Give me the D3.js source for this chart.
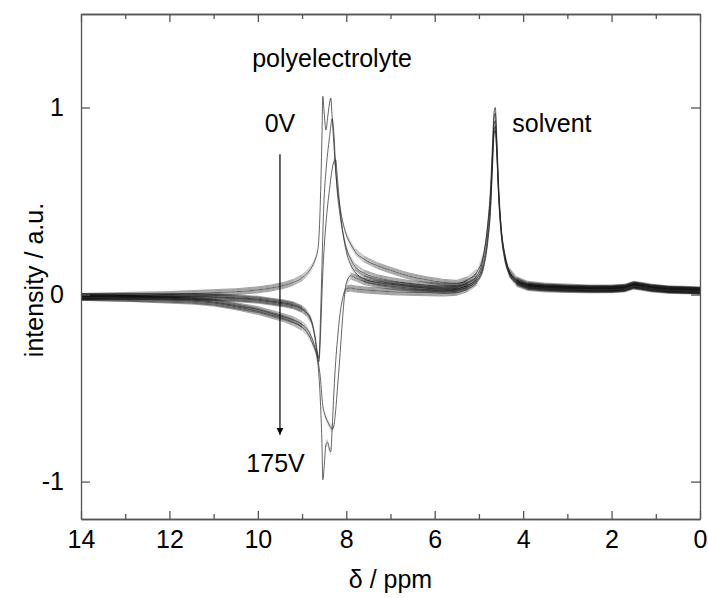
<!DOCTYPE html>
<html>
<head>
<meta charset="utf-8">
<title>NMR spectra</title>
<script src="https://d3js.org/d3.v7.min.js"></script>
<style>
  body { margin: 0; background: #fff; }
  text { font-family: "Liberation Sans", Arial, sans-serif; fill: #000; }
</style>
</head>
<body>
<div id="chart"></div>
<script>
// chemical shift grid (ppm), shared by all spectra
var ppm = [14, 13, 12, 11.5, 11, 10.5, 10, 9.7, 9.4, 9.2, 9.0, 8.9, 8.8, 8.75, 8.7,
  8.66, 8.62, 8.58, 8.55, 8.53, 8.5, 8.46, 8.42, 8.38, 8.35, 8.32, 8.28, 8.24, 8.2, 8.15,
  8.1, 8.05, 8.0, 7.9, 7.8, 7.6, 7.3, 7.0, 6.6, 6.2, 5.8, 5.5, 5.25, 5.05, 4.9,
  4.8, 4.74, 4.69, 4.66, 4.63, 4.6, 4.55, 4.5, 4.42, 4.32, 4.15, 3.9, 3.5, 3.0, 2.5,
  2.0, 1.7, 1.5, 1.35, 1.1, 0.7, 0.3, 0];

// intensities, 0V ... 175V
var trace0V = [-0.01, -0.005, 0.0, 0.005, 0.01, 0.015, 0.025, 0.035, 0.05, 0.065,
  0.09, 0.11, 0.14, 0.16, 0.19, 0.22, 0.3, 0.55, 0.85, 1.06,
  0.97, 0.88, 0.95, 1.02, 1.05, 0.95, 0.8, 0.66, 0.56, 0.48,
  0.41, 0.36, 0.32, 0.27, 0.23, 0.19, 0.155, 0.13, 0.1, 0.08,
  0.065, 0.06, 0.08, 0.12, 0.21, 0.37, 0.53, 0.76, 0.9, 0.93,
  0.8, 0.53, 0.36, 0.22, 0.13, 0.08, 0.055, 0.045, 0.04, 0.035,
  0.035, 0.04, 0.055, 0.05, 0.04, 0.03, 0.028, 0.025];
var trace2 = [-0.01, -0.01, -0.01, -0.01, -0.012, -0.018, -0.025, -0.035, -0.045, -0.055,
  -0.075, -0.095, -0.13, -0.17, -0.23, -0.3, -0.34, -0.1, 0.15, 0.33,
  0.52, 0.66, 0.76, 0.84, 0.9, 0.94, 0.86, 0.68, 0.54, 0.44,
  0.36, 0.3, 0.25, 0.19, 0.15, 0.115, 0.09, 0.075, 0.06, 0.05,
  0.045, 0.045, 0.065, 0.1, 0.2, 0.38, 0.56, 0.82, 0.97, 1.0,
  0.86, 0.56, 0.37, 0.22, 0.13, 0.075, 0.05, 0.04, 0.035, 0.032,
  0.032, 0.037, 0.052, 0.047, 0.037, 0.028, 0.025, 0.022];
var trace3 = [-0.012, -0.012, -0.012, -0.013, -0.015, -0.022, -0.03, -0.04, -0.05, -0.06,
  -0.08, -0.1, -0.14, -0.18, -0.25, -0.32, -0.36, -0.2, 0.0, 0.12,
  0.25, 0.38, 0.48, 0.56, 0.62, 0.67, 0.71, 0.72, 0.62, 0.48,
  0.37, 0.29, 0.23, 0.16, 0.12, 0.085, 0.065, 0.055, 0.045, 0.035,
  0.03, 0.033, 0.05, 0.085, 0.17, 0.33, 0.5, 0.77, 0.94, 0.97,
  0.83, 0.54, 0.36, 0.21, 0.12, 0.07, 0.045, 0.037, 0.033, 0.03,
  0.03, 0.035, 0.05, 0.045, 0.035, 0.027, 0.024, 0.02];
var trace4 = [-0.015, -0.02, -0.025, -0.03, -0.04, -0.06, -0.08, -0.1, -0.12, -0.135,
  -0.16, -0.18, -0.22, -0.25, -0.29, -0.32, -0.38, -0.46, -0.55, -0.6,
  -0.63, -0.66, -0.68, -0.7, -0.71, -0.72, -0.7, -0.62, -0.5, -0.35,
  -0.18, -0.03, 0.06, 0.1, 0.09, 0.07, 0.055, 0.045, 0.035, 0.028,
  0.022, 0.025, 0.042, 0.075, 0.15, 0.3, 0.46, 0.72, 0.87, 0.9,
  0.78, 0.51, 0.34, 0.2, 0.115, 0.065, 0.042, 0.035, 0.03, 0.028,
  0.028, 0.033, 0.048, 0.043, 0.033, 0.025, 0.022, 0.02];
var trace175V = [-0.015, -0.02, -0.03, -0.035, -0.045, -0.065, -0.09, -0.11, -0.13, -0.15,
  -0.175, -0.2, -0.24, -0.27, -0.3, -0.34, -0.43, -0.6, -0.8, -0.99,
  -0.92, -0.8, -0.79, -0.83, -0.84, -0.72, -0.52, -0.36, -0.24, -0.12,
  -0.04, 0.01, 0.03, 0.035, 0.03, 0.025, 0.02, 0.015, 0.012, 0.01,
  0.008, 0.012, 0.032, 0.065, 0.14, 0.28, 0.44, 0.7, 0.85, 0.88,
  0.77, 0.5, 0.33, 0.19, 0.11, 0.06, 0.038, 0.03, 0.027, 0.025,
  0.026, 0.03, 0.045, 0.04, 0.03, 0.022, 0.02, 0.018];

var traces = [trace0V, trace2, trace3, trace4, trace175V];

var xMajor = [14, 12, 10, 8, 6, 4, 2, 0];
var xMinor = [13, 11, 9, 7, 5, 3, 1];
var yMajor = [-1, 0, 1];

// text labels placed in data units
var notes = [
  { text: "polyelectrolyte", ppm: 8.32, val: 1.215 },
  { text: "0V", ppm: 9.5, val: 0.87 },
  { text: "solvent", ppm: 3.35, val: 0.87 },
  { text: "175V", ppm: 9.6, val: -0.947 }
];
var arrowFrom = [9.5, 0.75], arrowTo = [9.5, -0.75];

var width = 708, height = 598;
var mLeft = 81, mRight = 700, mTop = 14, mBottom = 519;

var x = d3.scaleLinear().domain([14, 0]).range([mLeft, mRight]);
var y = d3.scaleLinear().domain([-1.2, 1.5]).range([mBottom, mTop]);

var svg = d3.select("#chart").append("svg")
  .attr("width", width)
  .attr("height", height);

svg.append("defs").append("marker")
  .attr("id", "head")
  .attr("viewBox", "0 0 10 10")
  .attr("refX", 10).attr("refY", 5)
  .attr("markerWidth", 7).attr("markerHeight", 12)
  .attr("markerUnits", "userSpaceOnUse")
  .attr("orient", "auto")
  .append("path")
  .attr("d", "M0,0L10,5L0,10Z")
  .attr("fill", "#000");

svg.append("clipPath").attr("id", "plot")
  .append("rect")
  .attr("x", mLeft).attr("y", mTop)
  .attr("width", mRight - mLeft).attr("height", mBottom - mTop);

var line = d3.line()
  .x(function(d) { return x(d[0]); })
  .y(function(d) { return y(d[1]); })
  .curve(d3.curveMonotoneX);

// spectra. The noisy band is faked with vertically shifted copies,
// faded out where the trace is steep (noise is vertical only).
var noise = [-3, -2, -1, 1, 2, 3];
var plot = svg.append("g").attr("clip-path", "url(#plot)");
traces.forEach(function(t) {
  var pts = ppm.map(function(p, i) { return [p, t[i]]; });
  var band = plot.append("g");
  for (var i = 0; i < pts.length - 1; i++) {
    var x1 = x(pts[i][0]), y1 = y(pts[i][1]);
    var x2 = x(pts[i + 1][0]), y2 = y(pts[i + 1][1]);
    var s = Math.abs((y2 - y1) / (x2 - x1));
    var w = 1 / (1 + s * s);
    if (w < 0.05) continue;
    noise.forEach(function(dy) {
      band.append("line")
        .attr("x1", x1).attr("y1", y1 + dy)
        .attr("x2", x2).attr("y2", y2 + dy)
        .attr("stroke", "#000")
        .attr("stroke-opacity", 0.42 * w)
        .attr("stroke-width", 0.9);
    });
  }
  plot.append("path")
    .attr("d", line(pts))
    .attr("fill", "none")
    .attr("stroke", "#222")
    .attr("stroke-width", 0.7);
});

// axes, ticks inward
var axisColor = "#555";
function styleAxis(g) {
  g.selectAll("path, line").attr("stroke", axisColor).attr("stroke-width", 1.3);
  g.selectAll("text").style("font-size", "25px").attr("fill", "#000");
}

svg.append("g")
  .attr("transform", "translate(0," + mBottom + ")")
  .call(d3.axisBottom(x).tickValues(xMajor).tickSizeInner(-8).tickSizeOuter(0))
  .call(styleAxis)
  .call(function(g) { g.selectAll("text").attr("dy", "0.71em").attr("y", 11); });
svg.append("g")
  .attr("transform", "translate(0," + mBottom + ")")
  .call(d3.axisBottom(x).tickValues(xMinor).tickSizeInner(-5).tickSizeOuter(0).tickFormat(""))
  .call(styleAxis);
svg.append("g")
  .attr("transform", "translate(0," + mTop + ")")
  .call(d3.axisTop(x).tickValues(xMajor).tickSizeInner(-8).tickSizeOuter(0).tickFormat(""))
  .call(styleAxis);
svg.append("g")
  .attr("transform", "translate(0," + mTop + ")")
  .call(d3.axisTop(x).tickValues(xMinor).tickSizeInner(-5).tickSizeOuter(0).tickFormat(""))
  .call(styleAxis);
svg.append("g")
  .attr("transform", "translate(" + mLeft + ",0)")
  .call(d3.axisLeft(y).tickValues(yMajor).tickSizeInner(-9).tickSizeOuter(0).tickPadding(17)
    .tickFormat(function(d) { return String(d); }))
  .call(styleAxis);
svg.append("g")
  .attr("transform", "translate(" + mRight + ",0)")
  .call(d3.axisRight(y).tickValues(yMajor).tickSizeInner(-9).tickSizeOuter(0).tickFormat(""))
  .call(styleAxis);

// axis titles
svg.append("text")
  .attr("x", (mLeft + mRight) / 2)
  .attr("y", 588)
  .attr("text-anchor", "middle")
  .style("font-size", "25px")
  .text("\u03b4 / ppm");
svg.append("text")
  .attr("transform", "translate(43,280) rotate(-90)")
  .attr("text-anchor", "middle")
  .style("font-size", "25px")
  .text("intensity / a.u.");

// annotations
svg.selectAll(".note").data(notes).enter().append("text")
  .attr("class", "note")
  .attr("x", function(d) { return x(d.ppm); })
  .attr("y", function(d) { return y(d.val); })
  .attr("text-anchor", "middle")
  .style("font-size", "25px")
  .text(function(d) { return d.text; });

svg.append("line")
  .attr("x1", x(arrowFrom[0])).attr("y1", y(arrowFrom[1]))
  .attr("x2", x(arrowTo[0])).attr("y2", y(arrowTo[1]))
  .attr("stroke", "#000")
  .attr("stroke-width", 1.2)
  .attr("marker-end", "url(#head)");
</script>
</body>
</html>
